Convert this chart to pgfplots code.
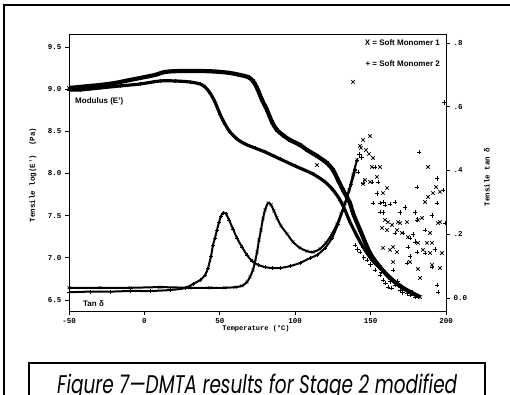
\documentclass[border=0pt]{standalone}
\usepackage{fontspec}
\setmainfont{Liberation Sans}
\newfontfamily\monofont{Liberation Mono}
\newfontfamily\capfont{Poppins}
\usepackage{pgfplots}
\usepackage{pgfplotstable}
\pgfplotsset{compat=1.18}

% Modulus, Soft Monomer 1 (x)
\pgfplotstableread{
T E
-50.0 9.014
-42.7 9.026
-36.1 9.038
-29.4 9.049
-19.5 9.073
-9.5 9.109
0.4 9.144
7.0 9.168
13.7 9.204
23.6 9.215
36.9 9.215
46.8 9.209
56.8 9.192
63.4 9.168
68.7 9.144
72.0 9.097
74.7 9.014
78.0 8.872
81.3 8.753
84.6 8.611
87.9 8.516
92.6 8.445
96.5 8.397
103.2 8.338
107.8 8.279
114.5 8.207
121.1 8.124
125.1 8.041
128.4 7.923
131.7 7.804
136.3 7.650
138.3 7.532
143.0 7.330
149.6 7.057
156.2 6.891
162.9 6.761
169.5 6.666
176.1 6.595
182.8 6.535
}\modX

% Modulus, Soft Monomer 2 (+)
\pgfplotstableread{
T E
-50.0 8.990
-42.7 8.990
-29.4 9.014
-16.2 9.038
-2.9 9.061
10.3 9.097
20.3 9.097
30.2 9.085
36.9 9.061
40.2 9.026
43.5 8.955
46.8 8.848
50.1 8.706
53.4 8.587
56.8 8.492
61.4 8.409
66.7 8.350
73.3 8.302
80.0 8.255
89.9 8.172
99.9 8.089
111.8 7.994
119.8 7.899
125.1 7.804
129.7 7.686
133.0 7.567
136.3 7.425
141.0 7.259
145.0 7.128
150.9 6.974
156.2 6.879
162.9 6.761
169.5 6.666
176.1 6.595
181.4 6.547
}\modP

% modulus noise, Soft Monomer 2
\pgfplotstableread{
T E
139.7 7.152
141.5 7.100
143.0 7.069
145.5 7.000
147.6 6.974
150.0 6.920
152.9 6.856
156.2 6.796
158.2 6.737
160.0 6.700
161.5 6.654
164.0 6.640
166.2 6.678
169.5 6.618
172.8 6.630
174.5 6.575
176.1 6.559
178.0 6.590
179.4 6.535
171.0 6.590
167.8 6.720
163.0 6.720
157.3 6.830
}\modPn

% tan delta, Soft Monomer 1 (x)
\pgfplotstableread{
T D
-50.0 0.032
-29.4 0.032
-9.5 0.032
10.3 0.034
30.2 0.032
43.5 0.032
53.4 0.032
60.1 0.034
64.7 0.038
68.0 0.050
70.0 0.066
72.0 0.088
73.3 0.113
74.7 0.144
76.0 0.182
77.3 0.213
78.6 0.248
80.0 0.276
82.0 0.298
84.0 0.292
85.9 0.273
87.9 0.251
90.6 0.226
94.6 0.201
98.5 0.176
103.2 0.157
107.8 0.147
111.8 0.144
116.4 0.154
120.4 0.173
124.4 0.201
127.7 0.232
130.4 0.264
133.0 0.298
135.7 0.339
138.3 0.386
141.0 0.433
}\tanX

% tan delta, Soft Monomer 2 (+)
\pgfplotstableread{
T D
-50.0 0.018
-36.1 0.020
-22.8 0.020
-9.5 0.022
3.7 0.022
17.0 0.025
26.9 0.031
32.2 0.044
36.9 0.056
40.2 0.072
42.2 0.094
44.2 0.132
45.5 0.166
46.8 0.188
48.1 0.213
49.5 0.238
50.8 0.257
52.1 0.267
54.1 0.264
56.1 0.245
58.8 0.216
61.4 0.188
64.7 0.160
68.0 0.135
71.4 0.116
75.3 0.104
80.0 0.097
84.6 0.094
89.9 0.094
96.5 0.100
103.2 0.110
109.8 0.125
114.5 0.135
119.8 0.157
124.4 0.188
128.4 0.232
131.7 0.276
134.3 0.314
137.0 0.355
139.7 0.400
}\tanP

% scattered tan delta, Soft Monomer 1 (x)
\pgfplotstableread{
T D
138.3 0.678
114.5 0.417
143.6 0.471
145.0 0.496
149.6 0.508
143.0 0.477
146.9 0.464
148.9 0.452
151.6 0.439
150.9 0.411
156.2 0.411
154.2 0.380
160.9 0.345
149.6 0.364
146.3 0.370
158.2 0.329
145.0 0.358
161.5 0.238
164.2 0.229
169.5 0.235
174.1 0.238
181.4 0.245
159.5 0.245
168.2 0.238
184.1 0.251
157.6 0.220
160.9 0.213
167.5 0.213
170.8 0.204
174.8 0.191
181.4 0.173
187.4 0.173
190.7 0.173
189.4 0.204
194.7 0.235
196.0 0.238
158.2 0.157
162.9 0.151
164.9 0.160
167.5 0.144
184.7 0.151
189.4 0.141
197.3 0.141
164.9 0.113
176.1 0.113
181.4 0.091
190.7 0.104
196.0 0.094
182.8 0.063
188.1 0.411
193.4 0.348
188.1 0.317
196.0 0.333
186.1 0.301
191.4 0.329
}\scX

% scattered tan delta, Soft Monomer 2 (+)
\pgfplotstableread{
T D
198.7 0.612
182.1 0.458
152.9 0.411
141.0 0.433
142.4 0.450
144.0 0.440
139.7 0.402
141.6 0.395
145.0 0.361
154.9 0.364
150.9 0.364
154.2 0.329
151.6 0.298
156.2 0.298
159.5 0.292
162.9 0.295
166.2 0.301
169.5 0.267
172.8 0.285
158.2 0.301
156.2 0.270
158.2 0.267
180.8 0.348
194.0 0.376
198.0 0.339
194.0 0.298
179.4 0.267
190.7 0.260
180.8 0.245
199.3 0.235
186.1 0.213
166.2 0.204
178.1 0.198
171.5 0.204
176.1 0.188
179.4 0.176
174.8 0.160
180.8 0.144
176.1 0.129
186.1 0.141
192.7 0.151
174.1 0.110
190.7 0.097
164.9 0.088
194.0 0.041
194.7 0.019
}\scP

\begin{document}
\begin{tikzpicture}[x=1pt,y=1pt]
\useasboundingbox (0,0) rectangle (510,-394);
\clip (0,0) rectangle (510,-394);
\pgfplotsset{
  every axis/.append style={
    at={(69pt,-311pt)}, anchor=south west,
    width=377pt, height=277pt, scale only axis,
    xmin=-50, xmax=200,
    axis line style={line width=0.9pt},
    tick style={line width=0.8pt, black},
    major tick length=4pt, tick align=outside,
    ticklabel style={font=\monofont\bfseries\fontsize{7.5}{8}\selectfont},
  }
}
\begin{axis}[
  ymin=6.369, ymax=9.654,
  xtick={-50,0,50,100,150,200},
  xticklabels={-50,0,50,100,150,200},
  ytick={6.5,7.0,7.5,8.0,8.5,9.0,9.5},
  yticklabels={6.5,7.0,7.5,8.0,8.5,9.0,9.5},
  xtick pos=bottom, ytick pos=left,
]
\addplot[black, line width=4.2pt, smooth, mark=x, mark size=2.3pt, mark options={line width=0.8pt}] table[x=T,y=E] {\modX};
\addplot[black, line width=3.2pt, smooth, mark=+, mark size=2.3pt, mark options={line width=0.8pt}] table[x=T,y=E] {\modP};
\addplot[black, only marks, mark=+, mark size=2.3pt, mark options={line width=0.8pt}] table[x=T,y=E] {\modPn};
\end{axis}
\begin{axis}[
  ymin=-0.0408, ymax=0.828,
  axis x line=none, axis y line*=right,
  ytick={0,0.2,0.4,0.6,0.8},
  yticklabels={0.0,.2,.4,.6,.8},
  ytick pos=right,
]
\addplot[black, line width=2.0pt, smooth, mark=x, mark size=2pt, mark options={line width=0.7pt}] table[x=T,y=D] {\tanX};
\addplot[black, line width=2.0pt, smooth, mark=+, mark size=2pt, mark options={line width=0.7pt}] table[x=T,y=D] {\tanP};
\addplot[black, only marks, mark=x, mark size=2.4pt, mark options={line width=0.75pt}] table[x=T,y=D] {\scX};
\addplot[black, only marks, mark=+, mark size=2.4pt, mark options={line width=0.75pt}] table[x=T,y=D] {\scP};
\end{axis}
% labels
\node[rotate=90, font=\monofont\bfseries\fontsize{7.5}{8}\selectfont] at (33,-175) {Tensile log(E')\ \ (Pa)};
\node[rotate=90, font=\monofont\bfseries\fontsize{7.5}{8}\selectfont] at (487,-177) {Tensile tan δ};
\node[font=\monofont\bfseries\fontsize{7}{8}\selectfont] at (256,-329) {Temperature (°C)};
\node[anchor=east, font=\bfseries\fontsize{8}{9}\selectfont, inner sep=0] at (440,-43) {X = Soft Monomer 1};
\node[anchor=east, font=\bfseries\fontsize{8}{9}\selectfont, inner sep=0] at (440,-64) {+ = Soft Monomer 2};
\node[anchor=west, font=\bfseries\fontsize{8}{9}\selectfont, inner sep=0] at (75,-101) {Modulus (E')};
\node[anchor=west, font=\bfseries\fontsize{8}{9}\selectfont, inner sep=0] at (83,-304) {Tan δ};
% frames
\draw[line width=1.5pt] (4,-396) -- (4,-5) -- (512,-5);
\draw[line width=1.3pt] (29,-400) -- (29,-363) -- (485,-363) -- (485,-400);
\node[anchor=base west, inner sep=0] at (57,-393) {\resizebox{400pt}{19.5pt}{\capfont\itshape Figure 7—DMTA results for Stage 2 modified}};
\end{tikzpicture}
\end{document}
